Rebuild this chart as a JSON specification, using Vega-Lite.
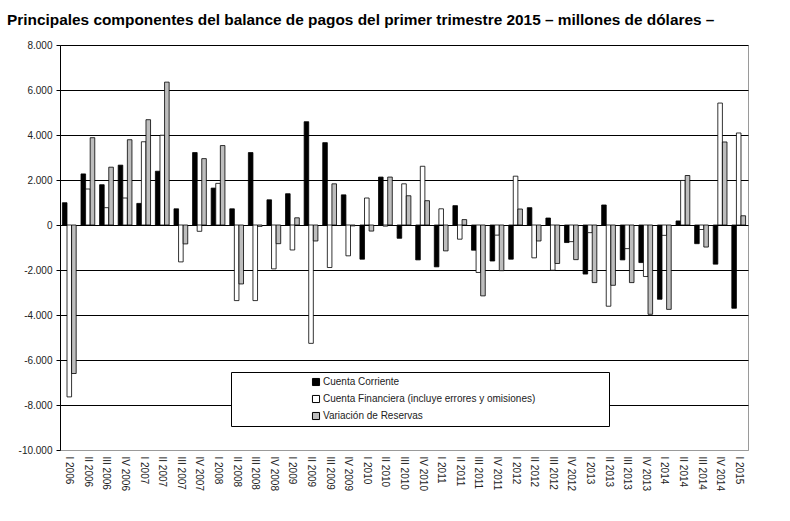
{
  "$schema": "https://vega.github.io/schema/vega-lite/v6.json",
  "width": 688,
  "height": 405,
  "autosize": {"type": "none"},
  "padding": {"left": 60, "top": 45, "right": 42, "bottom": 71},
  "background": "white",
  "title": {
    "text": "Principales componentes del balance de pagos del primer trimestre 2015 – millones de dólares –",
    "anchor": "start",
    "frame": "group",
    "dx": -53,
    "offset": 0,
    "baseline": "alphabetic",
    "font": "Liberation Sans",
    "fontSize": 15.4,
    "fontWeight": "bold",
    "color": "#000000"
  },
  "config": {
    "locale": {"number": {"decimal": ",", "thousands": ".", "grouping": [3], "currency": ["", ""], "minus": "-"}},
    "view": {"stroke": "#9a9a9a", "strokeWidth": 1},
    "font": "Liberation Sans"
  },
  "data": {
    "values": [
      {"q": "I 2006", "s": "Cuenta Corriente", "v": 990},
      {"q": "I 2006", "s": "Cuenta Financiera (incluye errores y omisiones)", "v": -7640},
      {"q": "I 2006", "s": "Variación de Reservas", "v": -6600},
      {"q": "II 2006", "s": "Cuenta Corriente", "v": 2270},
      {"q": "II 2006", "s": "Cuenta Financiera (incluye errores y omisiones)", "v": 1600},
      {"q": "II 2006", "s": "Variación de Reservas", "v": 3880},
      {"q": "III 2006", "s": "Cuenta Corriente", "v": 1790},
      {"q": "III 2006", "s": "Cuenta Financiera (incluye errores y omisiones)", "v": 770},
      {"q": "III 2006", "s": "Variación de Reservas", "v": 2570},
      {"q": "IV 2006", "s": "Cuenta Corriente", "v": 2660},
      {"q": "IV 2006", "s": "Cuenta Financiera (incluye errores y omisiones)", "v": 1200},
      {"q": "IV 2006", "s": "Variación de Reservas", "v": 3790},
      {"q": "I 2007", "s": "Cuenta Corriente", "v": 960},
      {"q": "I 2007", "s": "Cuenta Financiera (incluye errores y omisiones)", "v": 3700},
      {"q": "I 2007", "s": "Variación de Reservas", "v": 4680},
      {"q": "II 2007", "s": "Cuenta Corriente", "v": 2390},
      {"q": "II 2007", "s": "Cuenta Financiera (incluye errores y omisiones)", "v": 3990},
      {"q": "II 2007", "s": "Variación de Reservas", "v": 6350},
      {"q": "III 2007", "s": "Cuenta Corriente", "v": 720},
      {"q": "III 2007", "s": "Cuenta Financiera (incluye errores y omisiones)", "v": -1640},
      {"q": "III 2007", "s": "Variación de Reservas", "v": -840},
      {"q": "IV 2007", "s": "Cuenta Corriente", "v": 3220},
      {"q": "IV 2007", "s": "Cuenta Financiera (incluye errores y omisiones)", "v": -280},
      {"q": "IV 2007", "s": "Variación de Reservas", "v": 2950},
      {"q": "I 2008", "s": "Cuenta Corriente", "v": 1640},
      {"q": "I 2008", "s": "Cuenta Financiera (incluye errores y omisiones)", "v": 1850},
      {"q": "I 2008", "s": "Variación de Reservas", "v": 3530},
      {"q": "II 2008", "s": "Cuenta Corriente", "v": 720},
      {"q": "II 2008", "s": "Cuenta Financiera (incluye errores y omisiones)", "v": -3360},
      {"q": "II 2008", "s": "Variación de Reservas", "v": -2620},
      {"q": "III 2008", "s": "Cuenta Corriente", "v": 3220},
      {"q": "III 2008", "s": "Cuenta Financiera (incluye errores y omisiones)", "v": -3360},
      {"q": "III 2008", "s": "Variación de Reservas", "v": -60},
      {"q": "IV 2008", "s": "Cuenta Corriente", "v": 1120},
      {"q": "IV 2008", "s": "Cuenta Financiera (incluye errores y omisiones)", "v": -1950},
      {"q": "IV 2008", "s": "Variación de Reservas", "v": -830},
      {"q": "I 2009", "s": "Cuenta Corriente", "v": 1390},
      {"q": "I 2009", "s": "Cuenta Financiera (incluye errores y omisiones)", "v": -1110},
      {"q": "I 2009", "s": "Variación de Reservas", "v": 320},
      {"q": "II 2009", "s": "Cuenta Corriente", "v": 4590},
      {"q": "II 2009", "s": "Cuenta Financiera (incluye errores y omisiones)", "v": -5260},
      {"q": "II 2009", "s": "Variación de Reservas", "v": -710},
      {"q": "III 2009", "s": "Cuenta Corriente", "v": 3660},
      {"q": "III 2009", "s": "Cuenta Financiera (incluye errores y omisiones)", "v": -1890},
      {"q": "III 2009", "s": "Variación de Reservas", "v": 1830},
      {"q": "IV 2009", "s": "Cuenta Corriente", "v": 1340},
      {"q": "IV 2009", "s": "Cuenta Financiera (incluye errores y omisiones)", "v": -1370},
      {"q": "IV 2009", "s": "Variación de Reservas", "v": -40},
      {"q": "I 2010", "s": "Cuenta Corriente", "v": -1520},
      {"q": "I 2010", "s": "Cuenta Financiera (incluye errores y omisiones)", "v": 1200},
      {"q": "I 2010", "s": "Variación de Reservas", "v": -270},
      {"q": "II 2010", "s": "Cuenta Corriente", "v": 2130},
      {"q": "II 2010", "s": "Cuenta Financiera (incluye errores y omisiones)", "v": -50},
      {"q": "II 2010", "s": "Variación de Reservas", "v": 2130},
      {"q": "III 2010", "s": "Cuenta Corriente", "v": -590},
      {"q": "III 2010", "s": "Cuenta Financiera (incluye errores y omisiones)", "v": 1830},
      {"q": "III 2010", "s": "Variación de Reservas", "v": 1300},
      {"q": "IV 2010", "s": "Cuenta Corriente", "v": -1550},
      {"q": "IV 2010", "s": "Cuenta Financiera (incluye errores y omisiones)", "v": 2610},
      {"q": "IV 2010", "s": "Variación de Reservas", "v": 1080},
      {"q": "I 2011", "s": "Cuenta Corriente", "v": -1860},
      {"q": "I 2011", "s": "Cuenta Financiera (incluye errores y omisiones)", "v": 720},
      {"q": "I 2011", "s": "Variación de Reservas", "v": -1150},
      {"q": "II 2011", "s": "Cuenta Corriente", "v": 860},
      {"q": "II 2011", "s": "Cuenta Financiera (incluye errores y omisiones)", "v": -630},
      {"q": "II 2011", "s": "Variación de Reservas", "v": 240},
      {"q": "III 2011", "s": "Cuenta Corriente", "v": -1120},
      {"q": "III 2011", "s": "Cuenta Financiera (incluye errores y omisiones)", "v": -2110},
      {"q": "III 2011", "s": "Variación de Reservas", "v": -3150},
      {"q": "IV 2011", "s": "Cuenta Corriente", "v": -1600},
      {"q": "IV 2011", "s": "Cuenta Financiera (incluye errores y omisiones)", "v": -450},
      {"q": "IV 2011", "s": "Variación de Reservas", "v": -2030},
      {"q": "I 2012", "s": "Cuenta Corriente", "v": -1520},
      {"q": "I 2012", "s": "Cuenta Financiera (incluye errores y omisiones)", "v": 2170},
      {"q": "I 2012", "s": "Variación de Reservas", "v": 710},
      {"q": "II 2012", "s": "Cuenta Corriente", "v": 770},
      {"q": "II 2012", "s": "Cuenta Financiera (incluye errores y omisiones)", "v": -1460},
      {"q": "II 2012", "s": "Variación de Reservas", "v": -710},
      {"q": "III 2012", "s": "Cuenta Corriente", "v": 310},
      {"q": "III 2012", "s": "Cuenta Financiera (incluye errores y omisiones)", "v": -2010},
      {"q": "III 2012", "s": "Variación de Reservas", "v": -1710},
      {"q": "IV 2012", "s": "Cuenta Corriente", "v": -780},
      {"q": "IV 2012", "s": "Cuenta Financiera (incluye errores y omisiones)", "v": -740},
      {"q": "IV 2012", "s": "Variación de Reservas", "v": -1540},
      {"q": "I 2013", "s": "Cuenta Corriente", "v": -2180},
      {"q": "I 2013", "s": "Cuenta Financiera (incluye errores y omisiones)", "v": -340},
      {"q": "I 2013", "s": "Variación de Reservas", "v": -2560},
      {"q": "II 2013", "s": "Cuenta Corriente", "v": 890},
      {"q": "II 2013", "s": "Cuenta Financiera (incluye errores y omisiones)", "v": -3610},
      {"q": "II 2013", "s": "Variación de Reservas", "v": -2680},
      {"q": "III 2013", "s": "Cuenta Corriente", "v": -1550},
      {"q": "III 2013", "s": "Cuenta Financiera (incluye errores y omisiones)", "v": -1050},
      {"q": "III 2013", "s": "Variación de Reservas", "v": -2560},
      {"q": "IV 2013", "s": "Cuenta Corriente", "v": -1670},
      {"q": "IV 2013", "s": "Cuenta Financiera (incluye errores y omisiones)", "v": -2290},
      {"q": "IV 2013", "s": "Variación de Reservas", "v": -3970},
      {"q": "I 2014", "s": "Cuenta Corriente", "v": -3300},
      {"q": "I 2014", "s": "Cuenta Financiera (incluye errores y omisiones)", "v": -460},
      {"q": "I 2014", "s": "Variación de Reservas", "v": -3750},
      {"q": "II 2014", "s": "Cuenta Corriente", "v": 180},
      {"q": "II 2014", "s": "Cuenta Financiera (incluye errores y omisiones)", "v": 1980},
      {"q": "II 2014", "s": "Variación de Reservas", "v": 2200},
      {"q": "III 2014", "s": "Cuenta Corriente", "v": -830},
      {"q": "III 2014", "s": "Cuenta Financiera (incluye errores y omisiones)", "v": -200},
      {"q": "III 2014", "s": "Variación de Reservas", "v": -980},
      {"q": "IV 2014", "s": "Cuenta Corriente", "v": -1740},
      {"q": "IV 2014", "s": "Cuenta Financiera (incluye errores y omisiones)", "v": 5420},
      {"q": "IV 2014", "s": "Variación de Reservas", "v": 3690},
      {"q": "I 2015", "s": "Cuenta Corriente", "v": -3700},
      {"q": "I 2015", "s": "Cuenta Financiera (incluye errores y omisiones)", "v": 4090},
      {"q": "I 2015", "s": "Variación de Reservas", "v": 410}
    ]
  },
  "mark": {"type": "bar", "stroke": "#000000", "strokeWidth": 0.8},
  "encoding": {
    "x": {
      "field": "q",
      "type": "nominal",
      "sort": null,
      "scale": {"paddingInner": 0.26, "paddingOuter": 0.13},
      "axis": {
        "title": null,
        "labelAngle": 90,
        "labelAlign": "left",
        "labelBaseline": "middle",
        "ticks": false,
        "domain": false,
        "labelFontSize": 10,
        "labelColor": "#222222",
        "labelPadding": 6
      }
    },
    "xOffset": {"field": "s", "type": "nominal", "sort": null},
    "y": {
      "field": "v",
      "type": "quantitative",
      "scale": {"domain": [-10000, 8000], "nice": false, "zero": false},
      "axis": {
        "title": null,
        "values": [-10000, -8000, -6000, -4000, -2000, 0, 2000, 4000, 6000, 8000],
        "format": ",d",
        "grid": true,
        "gridColor": {"condition": {"test": "datum.value == -10000", "value": "#9a9a9a"}, "value": "#000000"},
        "gridWidth": 1,
        "domainColor": "#000000",
        "tickColor": "#000000",
        "tickSize": 4,
        "labelFontSize": 10,
        "labelColor": "#222222",
        "labelPadding": 4
      }
    },
    "color": {
      "field": "s",
      "type": "nominal",
      "sort": null,
      "scale": {
        "domain": ["Cuenta Corriente", "Cuenta Financiera (incluye errores y omisiones)", "Variación de Reservas"],
        "range": ["#000000", "#ffffff", "#bdbdbd"]
      },
      "legend": {
        "orient": "none",
        "legendX": 171,
        "legendY": 327,
        "direction": "vertical",
        "fillColor": "#ffffff",
        "strokeColor": "#000000",
        "padding": 4,
        "symbolType": "square",
        "symbolSize": 50,
        "symbolStrokeColor": "#000000",
        "symbolStrokeWidth": 1,
        "symbolOffset": 76,
        "labelFontSize": 10,
        "labelColor": "#222222",
        "labelOffset": 2,
        "labelLimit": 400,
        "rowPadding": 5,
        "clipHeight": 12,
        "title": "\u00a0",
        "titleOrient": "right",
        "titlePadding": 70
      }
    }
  }
}
